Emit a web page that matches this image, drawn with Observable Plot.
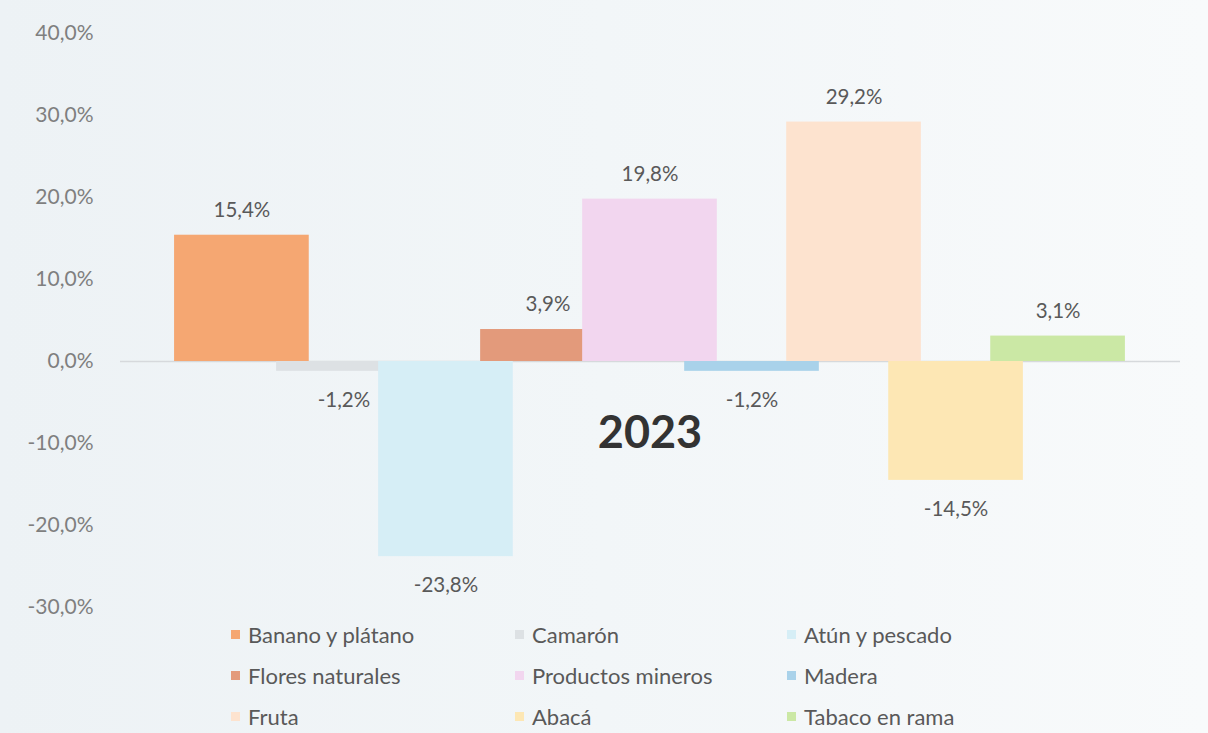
<!DOCTYPE html>
<html>
<head>
<meta charset="utf-8">
<script src="https://cdn.jsdelivr.net/npm/d3@7"></script>
<script src="https://cdn.jsdelivr.net/npm/@observablehq/plot@0.6"></script>
<style>
  html, body { margin: 0; padding: 0; }
  body {
    width: 1208px; height: 733px; overflow: hidden;
    background: linear-gradient(90deg, #edf2f5 0%, #f2f6f8 50%, #f8fafb 100%);
    font-family: Lato, "Open Sans", sans-serif;
    position: relative;
  }
  #chart { position: absolute; left: 0; top: 0; }
  #legend {
    position: absolute; left: 231px; top: 614px;
    display: grid; grid-template-columns: 284px 272px 260px;
    grid-auto-rows: 41px;
    font-size: 22px; color: #595959;
  }
  .item { display: flex; align-items: center; height: 41px; }
  .sw { width: 9px; height: 9px; margin-right: 8px; flex: none; }
</style>
</head>
<body>
<div id="chart"></div>
<div id="legend"></div>
<script>
const series = ["Banano y plátano", "Camarón", "Atún y pescado", "Flores naturales", "Productos mineros", "Madera", "Fruta", "Abacá", "Tabaco en rama"];
const values = [15.4, -1.2, -23.8, 3.9, 19.8, -1.2, 29.2, -14.5, 3.1];
const colors = ["#f5a772", "#dde1e4", "#d6eef6", "#e39a7b", "#f2d6ef", "#a9d2ea", "#fde3cf", "#fde7b4", "#cbe8a5"];
const category = ["2023"];
const yTicks = [-30, -20, -10, 0, 10, 20, 30, 40];

const data = series.map((s, i) => ({ name: s, i, value: values[i], color: colors[i] }));
const half = 0.66;
const fmt = v => v.toFixed(1).replace(".", ",") + "%";

const plot = Plot.plot({
  width: 1208,
  height: 620,
  marginTop: 33,
  marginBottom: 13,
  marginLeft: 120,
  marginRight: 28,
  style: { background: "transparent", fontFamily: "Lato, 'Open Sans', sans-serif", fontSize: "21px", color: "#7f7f7f", overflow: "visible" },
  x: { domain: [-1.19, 9.2], axis: null },
  y: { domain: [-30, 40], axis: null },
  marks: [
    Plot.ruleY([0], { stroke: "#d6d9dc", strokeWidth: 1.5 }),
    Plot.rectY(data, { x1: d => d.i - half, x2: d => d.i + half, y1: 0, y2: "value", fill: "color" }),
    Plot.axisY(yTicks, { label: null, tickSize: 0, tickPadding: 27, tickFormat: fmt, fontSize: 21, fill: "#7f7f7f" }),
    Plot.text(data.filter(d => d.value >= 0), { x: "i", y: "value", text: d => fmt(d.value), dy: -25, fill: "#595959", fontSize: 20.5 }),
    Plot.text(data.filter(d => d.value < 0), { x: "i", y: "value", text: d => fmt(d.value), dy: 29, fill: "#595959", fontSize: 20.5 }),
    Plot.text(category, { x: (series.length - 1) / 2, y: 0, text: d => d, dy: 72, fontSize: 45, fontWeight: "bold", fill: "#333333" })
  ]
});
document.getElementById("chart").appendChild(plot);

const legend = document.getElementById("legend");
series.forEach((s, i) => {
  const item = document.createElement("div");
  item.className = "item";
  const sw = document.createElement("span");
  sw.className = "sw";
  sw.style.background = colors[i];
  const t = document.createElement("span");
  t.textContent = s;
  item.appendChild(sw);
  item.appendChild(t);
  legend.appendChild(item);
});
</script>
</body>
</html>
